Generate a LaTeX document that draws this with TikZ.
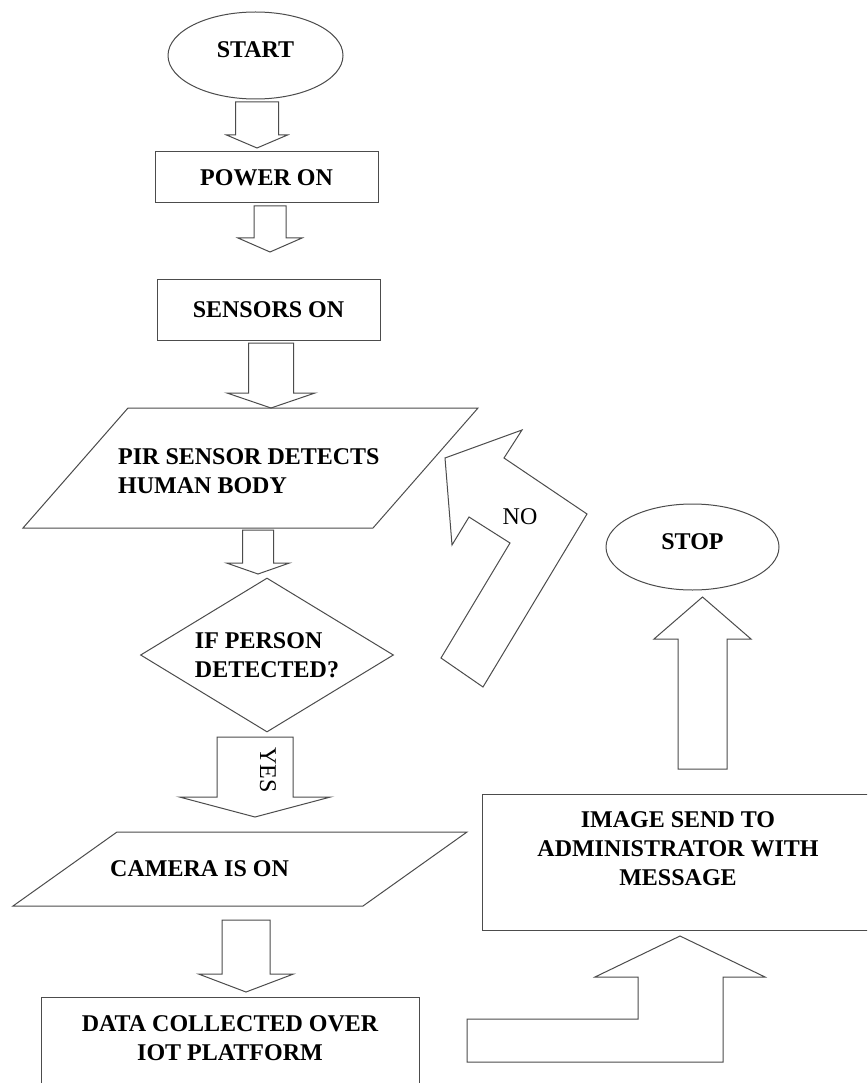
\documentclass[tikz,border=0pt]{standalone}
\usepackage{fontspec}
\setmainfont{Liberation Serif}
\usetikzlibrary{shapes.geometric}

% hollow block arrow: x, back y, head y, tip y, shaft half width, head half width
\newcommand{\barrow}[6]{%
  \draw[blockarrow] (#1-#5,#2) -- (#1+#5,#2) -- (#1+#5,#3) -- (#1+#6,#3)
    -- (#1,#4) -- (#1-#6,#3) -- (#1-#5,#3) -- cycle;}

\begin{document}
\begin{tikzpicture}[x=1pt,y=-1pt,line join=miter,
                    font=\fontsize{24}{29}\selectfont\bfseries]
  \tikzstyle{outline}=[draw=black!70,line width=1pt]
  \tikzstyle{blockarrow}=[outline]
  \tikzstyle{term}=[outline,ellipse,inner sep=0pt,text depth=12pt]
  \tikzstyle{proc}=[outline,rectangle,inner sep=0pt]
  \tikzstyle{decision}=[outline,diamond,aspect=1.64,inner sep=0pt,align=left]
  \tikzstyle{txt}=[inner sep=0pt]
  \tikzstyle{answer}=[inner sep=0pt,font=\fontsize{24}{29}\selectfont]

  \fill[white] (0,0) rectangle (867,1083);
  \path[use as bounding box] (0,0) rectangle (867,1083);
  \clip (0,0) rectangle (867,1083);

  \node[term,minimum width=175,minimum height=87] (start) at (255.5,55.5) {START};
  \node[proc,minimum width=223,minimum height=51] (power) at (266.5,177.5) {POWER ON};
  \node[proc,minimum width=223,minimum height=61] (sensors) at (268.5,309.5) {SENSORS ON};

  % input: pir
  \draw[outline] (128,408) -- (478,408) -- (373,528) -- (23,528) -- cycle;
  \node[txt,anchor=west,align=left] (pir) at (118,471.5) {PIR SENSOR DETECTS\\HUMAN BODY};

  \node[decision,minimum width=253,minimum height=154] (check) at (267,655) {IF PERSON\\DETECTED?};

  % input: camera
  \draw[outline] (117,832) -- (467,832) -- (363,906) -- (13,906) -- cycle;
  \node[txt,anchor=west] (camera) at (110,869) {CAMERA IS ON};

  \node[proc,anchor=north,minimum width=378,minimum height=120] (data) at (230,997) {};
  \node[txt,align=center] (datatxt) at (230,1038) {DATA COLLECTED OVER\\IOT PLATFORM};

  \node[proc,anchor=north west,minimum width=420,minimum height=136] (image) at (482,794) {};
  \node[txt,align=center] (imagetxt) at (678,848.5) {IMAGE SEND TO\\ADMINISTRATOR WITH\\MESSAGE};

  \node[term,minimum width=173,minimum height=86,text depth=10pt] (stop) at (692.5,547) {STOP};

  % block arrows
  \barrow{257}{102}{135}{148}{21.5}{30.5}
  \barrow{270}{206}{238}{252}{16}{32}
  \barrow{271}{343}{393}{408}{22.5}{44}
  \barrow{258}{530}{563}{574}{15.5}{31.5}
  \barrow{255}{737}{797}{817}{38}{75.5}
  \barrow{246}{920}{974}{992}{24}{47.5}
  \barrow{702.5}{769}{639}{597}{24.5}{48.5}

  % no: back to pir
  \draw[blockarrow] (504,458) -- (522,430) -- (445,458) -- (452,545) -- (469,517)
    -- (510,543) -- (441,658) -- (483,687) -- (587,514) -- cycle;
  % data up to image
  \draw[blockarrow] (680,936) -- (765,977) -- (723,977) -- (723,1062) -- (467,1062)
    -- (467,1019) -- (638,1019) -- (638,977) -- (595,977) -- cycle;

  \node[answer,rotate=-90] (yes) at (268,770) {YES};
  \node[answer] (no) at (520,517) {NO};
\end{tikzpicture}
\end{document}
